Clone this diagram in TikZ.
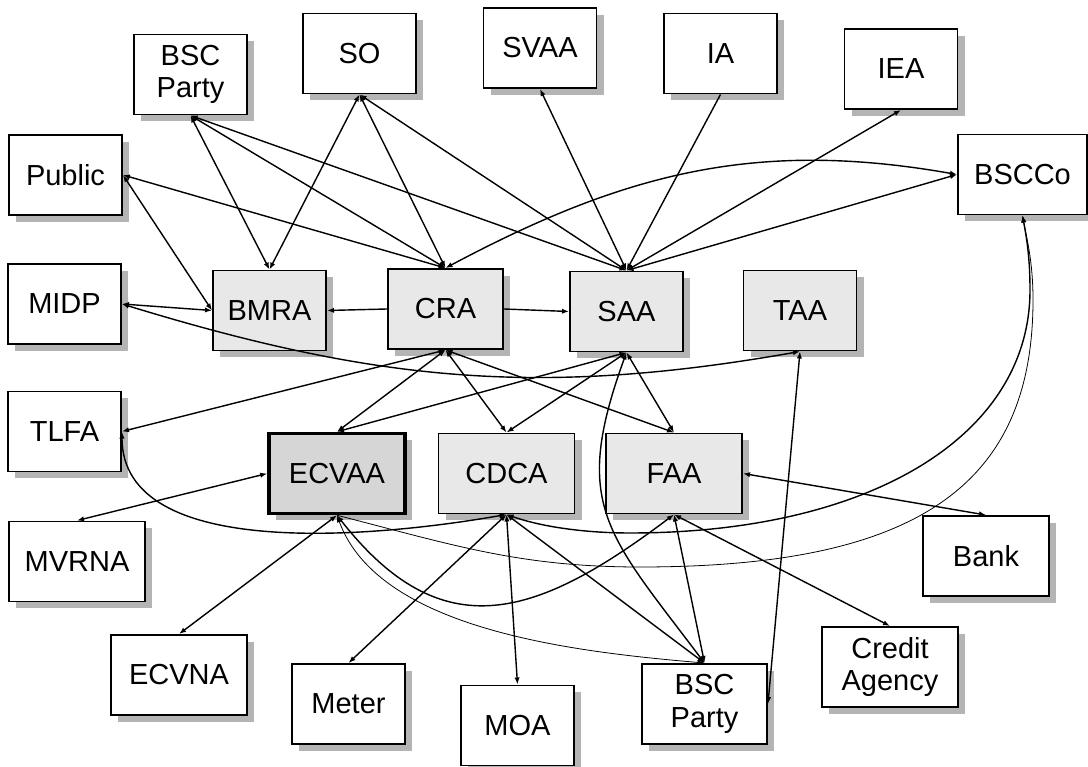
\documentclass[tikz,border=0pt]{standalone}
\usepackage{fontspec}
\setmainfont{Liberation Sans}
\usetikzlibrary{arrows.meta,shadows}

\definecolor{boxgray}{RGB}{232,232,232}
\definecolor{ecvgray}{RGB}{214,214,214}
\definecolor{shadowgray}{RGB}{180,180,180}

\tikzset{
    party/.style={draw, line width=1.1pt, fill=white, align=center,
        minimum width=2.26cm, minimum height=1.6cm, inner sep=1pt,
        font=\fontsize{16.5}{18.5}\selectfont,
        drop shadow={shadow xshift=0.14cm, shadow yshift=-0.14cm, fill=shadowgray, opacity=1}},
    agent/.style={party, fill=boxgray},
    widebox/.style={minimum width=2.72cm},
    thinline/.style={line width=0.45pt}
}

\begin{document}
\begin{tikzpicture}[>={Latex[length=4pt,width=3pt]}, line width=0.8pt]
        \useasboundingbox (0,0) rectangle (21.76,-15.34);

        % Outer parties, top
        \node[party] (bscpA) at (3.81,-1.49) {BSC\\Party};
        \node[party] (so) at (7.19,-1.07) {SO};
        \node[party] (svaa) at (10.80,-0.96) {SVAA};
        \node[party] (ia) at (14.41,-1.07) {IA};
        \node[party] (iea) at (18.02,-1.38) {IEA};
        \node[party, minimum width=2.58cm] (bscco) at (20.45,-3.49) {BSCCo};
        \node[party] (public) at (1.31,-3.50) {Public};
        \node[party] (midp) at (1.29,-6.08) {MIDP};
        \node[party] (tlfa) at (1.29,-8.63) {TLFA};

        % Agents
        \node[agent] (bmra) at (5.39,-6.21) {BMRA};
        \node[agent, minimum width=2.3cm] (cra) at (8.91,-6.18) {CRA};
        \node[agent] (saa) at (12.53,-6.23) {SAA};
        \node[agent] (taa) at (16.00,-6.21) {TAA};
        \node[agent, widebox, fill=ecvgray, line width=2pt] (ecvaa) at (6.74,-9.47) {ECVAA};
        \node[agent, widebox] (cdca) at (10.13,-9.47) {CDCA};
        \node[agent, widebox] (faa) at (13.48,-9.47) {FAA};

        % Outer parties, bottom
        \node[party, widebox] (mvrna) at (1.54,-11.23) {MVRNA};
        \node[party, minimum width=2.52cm] (bank) at (19.72,-11.12) {Bank};
        \node[party, widebox] (ecvna) at (3.58,-13.50) {ECVNA};
        \node[party] (meter) at (6.97,-14.08) {Meter};
        \node[party] (moa) at (10.35,-14.51) {MOA};
        \node[party, minimum width=2.5cm] (bscpB) at (14.09,-14.08) {BSC\\Party};
        \node[party, widebox] (credit) at (17.80,-13.34) {Credit\\Agency};

        % Top links
        \draw[<->] (bscpA.south) -- (bmra.north);
        \draw[<->] (bscpA.south) -- (cra.north);
        \draw[<->] (bscpA.south) -- (saa.north);
        \draw[<->] (so.south) -- (bmra.north);
        \draw[<->] (so.south) -- (cra.north);
        \draw[<->] (so.south) -- (saa.north);
        \draw[<->] (public.east) -- (bmra.west);
        \draw[<->] (public.east) -- (cra.north);
        \draw[<->] (saa.north) -- (svaa.south);
        \draw[->] (ia.south) -- (saa.north);
        \draw[<->] (saa.north) -- (iea.south);
        \draw[<->] (saa.north) -- (bscco.west);
        \draw[<->] (cra.north) to[out=28,in=170] (bscco.west);

        % Middle links
        \draw[<->] (midp.east) -- (bmra.west);
        \draw[<->] (midp.east) to[out=-17,in=190] (taa.south);
        \draw[->] (cra.west) -- (bmra.east);
        \draw[->] (cra.east) -- (saa.west);
        \draw[<->] (tlfa.east) -- (cra.south);
        \draw[<->] (cra.south) -- (ecvaa.north);
        \draw[<->] (cra.south) -- (cdca.north);
        \draw[<->] (cra.south) -- (faa.north);
        \draw[<->] (saa.south) -- (ecvaa.north);
        \draw[<->] (saa.south) -- (cdca.north);
        \draw[<->] (saa.south) -- (faa.north);
        \draw[<->] (saa.south) to[out=-110,in=127,looseness=1.3] (bscpB.north);

        % Curves round the bottom
        \draw[<->] (tlfa.east) to[out=-90,in=190,looseness=0.85] (cdca.south);
        \draw[<->] (cdca.south) .. controls (10.90,-10.56) and (11.80,-10.66) .. (12.60,-10.66)
            .. controls (17.40,-10.66) and (20.60,-8.72) .. (20.60,-5.80)
            .. controls (20.60,-5.10) and (20.52,-4.70) .. (bscco.south);
        \draw[thinline, ->] (ecvaa.south) .. controls (9.06,-10.90) and (10.40,-11.34) .. (12.80,-11.34)
            .. controls (18.30,-11.34) and (20.66,-9.74) .. (20.66,-6.00)
            .. controls (20.66,-5.24) and (20.54,-4.80) .. (bscco.south);
        \draw[thinline, <->] (ecvaa.south) to[out=-70,in=175,looseness=0.8] (bscpB.north);
        \draw[<->] (ecvaa.south) to[out=-52,in=-143,looseness=1.3] (faa.south);

        % Bottom links
        \draw[<->] (mvrna.north) -- (ecvaa.west);
        \draw[<->] (ecvaa.south) -- (ecvna.north);
        \draw[<->] (cdca.south) -- (meter.north);
        \draw[<->] (cdca.south) -- (moa.north);
        \draw[<->] (cdca.south) -- (bscpB.north);
        \draw[<->] (faa.south) -- (bscpB.north);
        \draw[<->] (faa.south) -- (credit.north);
        \draw[<->] (faa.east) -- (bank.north);
        \draw[<->] (bscpB.east) -- (taa.south);
    \end{tikzpicture}
\end{document}
